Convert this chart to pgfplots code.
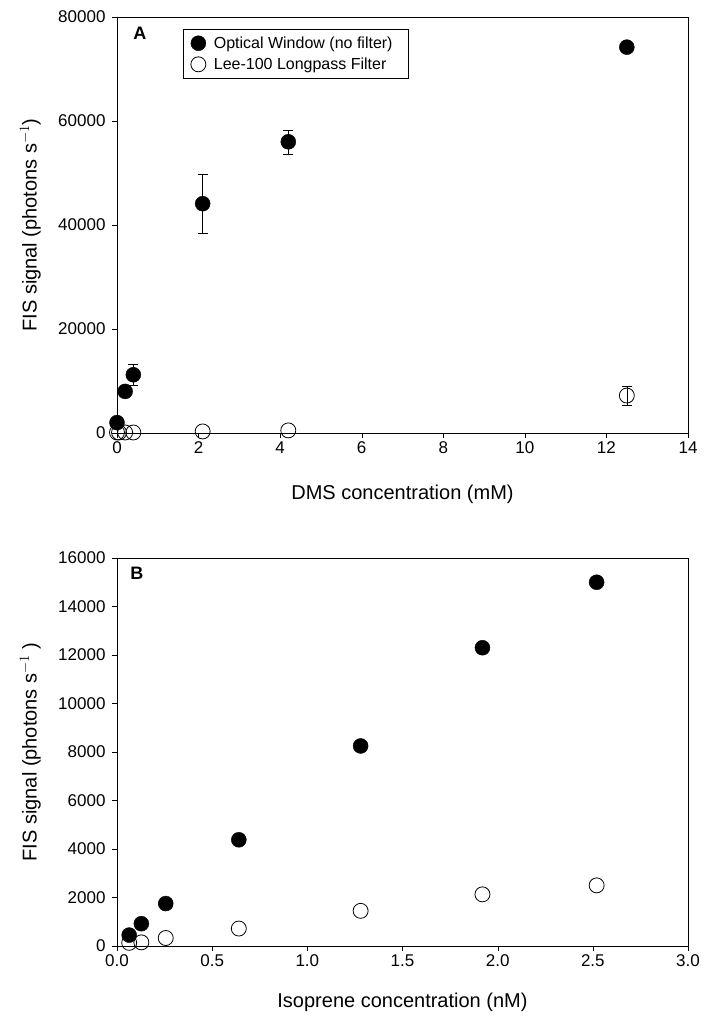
\documentclass[border=0pt]{standalone}
\usepackage{pgfplots}
\pgfplotsset{compat=1.18}
\usepackage{fontspec}
\setmainfont{Liberation Sans}
\begin{document}
\begin{tikzpicture}
\pgfplotsset{
  every axis/.append style={scale only axis, width=571pt, font=\fontsize{17}{20}\selectfont,
    /pgf/number format/assume math mode=true, tick align=outside, tick style={black}, major tick length=5pt,
    axis line style={black}, scaled y ticks=false, yticklabel style={/pgf/number format/fixed,/pgf/number format/1000 sep={}, xshift=-3pt},
    ylabel style={font=\fontsize{20}{24}\selectfont, at={(axis description cs:-0.152,0.5)}, anchor=center},
    xlabel style={font=\fontsize{20}{24}\selectfont, at={(axis description cs:0.5,0)}, anchor=center},
    xtick pos=bottom, ytick pos=left},
  fil/.style={only marks, mark=*, mark size=7.5pt, mark options={fill=black, draw=black}},
  opn/.style={only marks, mark=o, mark size=7.5pt, mark options={draw=black, fill=white, line width=0.8pt}},
  eb/.style={draw=none, mark=none, forget plot, error bars/.cd, y dir=both, y explicit, error bar style={black, solid}, error mark options={black, mark size=5pt, rotate=90}},
}
\begin{axis}[name=A, at={(0,0)}, anchor=south west, height=416pt,
  xmin=0, xmax=14, ymin=0, ymax=80000, xtick={0,2,...,14}, ytick={0,20000,...,80000},
  xlabel={DMS concentration (mM)}, ylabel={FIS signal (photons s$^{-1}$)}, clip=false,
  xlabel style={yshift=-61pt},
  legend style={at={(0.115,0.97)}, anchor=north west, draw=black, font=\fontsize{16}{19}\selectfont, row sep=4pt, inner xsep=8pt, inner ysep=5pt,
    nodes={inner xsep=8pt}},
  legend cell align=left]
\addplot[eb] coordinates {(0.4,11200) +- (0,2000) (2.1,44100) +- (0,5600) (4.2,56000) +- (0,2300) (12.5,7200) +- (0,1800)};
\addplot[fil] coordinates {(0,2000) (0.2,8000) (0.4,11200) (2.1,44100) (4.2,56000) (12.5,74200)};
\addlegendentry{Optical Window (no filter)}
\addplot[opn] coordinates {(0,100) (0.05,100) (0.2,100) (0.4,100) (2.1,300) (4.2,500) (12.5,7200)};
\addlegendentry{Lee-100 Longpass Filter}
\node[font=\bfseries\fontsize{18}{20}\selectfont] at (rel axis cs:0.04,0.96) {A};
\end{axis}
\begin{axis}[name=B, at={(0,-513pt)}, anchor=south west, height=388pt,
  xmin=0, xmax=3, ymin=0, ymax=16000, xtick={0,0.5,...,3}, ytick={0,2000,...,16000},
  xticklabel style={/pgf/number format/fixed, /pgf/number format/fixed zerofill, /pgf/number format/precision=1},
  xlabel style={yshift=-56pt},
  xlabel={Isoprene concentration (nM)}, ylabel={FIS signal (photons s$^{-1}$ )}, clip=false]
\addplot[fil] coordinates {(0.064,450) (0.128,920) (0.256,1750) (0.64,4380) (1.28,8250) (1.92,12300) (2.52,15000)};
\addplot[opn] coordinates {(0.064,130) (0.128,150) (0.256,330) (0.64,720) (1.28,1450) (1.92,2130) (2.52,2500)};
\node[font=\bfseries\fontsize{18}{20}\selectfont] at (rel axis cs:0.035,0.96) {B};
\end{axis}
\path (-117pt,-586pt) rectangle (589pt,433pt);
\end{tikzpicture}
\end{document}
